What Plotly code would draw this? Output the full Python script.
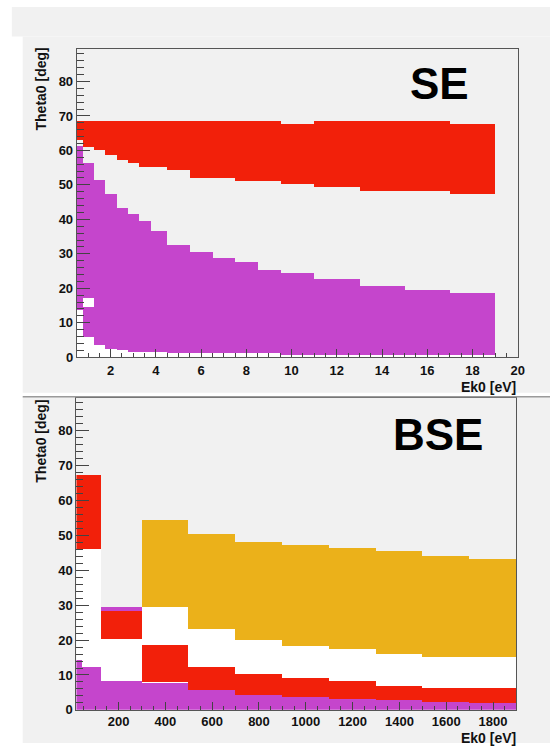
import plotly.graph_objects as go

# ---------------- data: SE panel (top) ----------------
se_edges = [0.5, 0.75, 1.25, 1.75, 2.25, 2.75, 3.25, 3.75, 4.5, 5.5, 6.5, 7.5, 8.5, 9.5, 11, 13, 15, 17, 19]
se_red_lo = [63.0, 61.2, 60.2, 58.6, 57.3, 56.3, 55.3, 55.3, 54.4, 52.1, 52.1, 51.2, 51.2, 50.4, 49.4, 48.3, 48.3, 47.3]
se_red_hi = [68.6, 68.6, 68.6, 68.6, 68.6, 68.6, 68.6, 68.6, 68.6, 68.6, 68.6, 68.6, 68.6, 67.6, 68.6, 68.6, 68.6, 67.6]
se_pur_lo = [13.8, 6.0, 3.6, 2.5, 2.0, 1.7, 1.5, 1.5, 1.2, 1.2, 1.2, 1.2, 1.2, 0.7, 0.7, 0.7, 0.7, 0.7]
se_pur_hi = [61.4, 56.5, 51.5, 47.4, 43.5, 41.6, 39.5, 36.6, 32.6, 30.7, 28.7, 27.7, 25.5, 24.5, 22.7, 20.6, 19.6, 18.6]
se_pur_gap_bin = [1]
se_pur_gap_lo = [14.6]
se_pur_gap_hi = [17.3]

# ---------------- data: BSE panel (bottom) ----------------
bse_edges = [20, 45, 125, 300, 500, 700, 900, 1100, 1300, 1500, 1700, 1900]
bse_red_lo = [46.3, 46.3, 20.4, 8.2, 5.8, 4.4, 3.8, 3.1, 2.8, 2.3, 2.0]
bse_red_hi = [67.5, 67.5, 28.4, 18.6, 12.3, 10.4, 9.2, 8.3, 7.0, 6.3, 6.3]
bse_pur_lo = [0, 0, 0, 0, 0, 0, 0, 0, 0, 0, 0]
bse_pur_hi = [14.5, 12.4, 8.4, 7.9, 5.8, 4.4, 3.8, 3.1, 2.8, 2.3, 2.0]
bse_pur_extra_bin = [2]
bse_pur_extra_lo = [28.4]
bse_pur_extra_hi = [29.6]
bse_org_lo = [None, None, None, 29.6, 23.4, 20.2, 18.5, 17.4, 16.2, 15.2, 15.2]
bse_org_hi = [None, None, None, 54.5, 50.5, 48.3, 47.3, 46.4, 45.5, 44.2, 43.4]

se_xticks = [2, 4, 6, 8, 10, 12, 14, 16, 18, 20]
bse_xticks = [200, 400, 600, 800, 1000, 1200, 1400, 1600, 1800]
y_ticks = [0, 10, 20, 30, 40, 50, 60, 70, 80]

RED = "#f2200a"
PURPLE = "#c545cc"
ORANGE = "#ebb11a"
WHITE = "#ffffff"
PAD = "#f1f1f1"


def segments(edges, lo, hi, gap_bin=(), gap_lo=(), gap_hi=()):
    """Return centers, widths, bases, heights for bin ranges (optionally split by a gap)."""
    xs, ws, bs, hs = [], [], [], []
    gaps = {b: (gl, gh) for b, gl, gh in zip(gap_bin, gap_lo, gap_hi)}
    for i in range(len(edges) - 1):
        if lo[i] is None or hi[i] is None:
            continue
        c = 0.5 * (edges[i] + edges[i + 1])
        w = edges[i + 1] - edges[i]
        parts = [(lo[i], hi[i])]
        if i in gaps:
            gl, gh = gaps[i]
            parts = [(lo[i], gl), (gh, hi[i])]
        for a, b in parts:
            xs.append(c); ws.append(w); bs.append(a); hs.append(b - a)
    return xs, ws, bs, hs


def bar(edges, lo, hi, color, xa, ya, **kw):
    xs, ws, bs, hs = segments(edges, lo, hi, **kw)
    return go.Bar(x=xs, y=hs, base=bs, width=ws, marker=dict(color=color, line=dict(width=0)),
                  xaxis=xa, yaxis=ya, showlegend=False, hoverinfo="skip")


def extra(edges, bins, lo, hi, color, xa, ya):
    xs = [0.5 * (edges[b] + edges[b + 1]) for b in bins]
    ws = [edges[b + 1] - edges[b] for b in bins]
    return go.Bar(x=xs, y=[h - l for l, h in zip(lo, hi)], base=lo, width=ws,
                  marker=dict(color=color, line=dict(width=0)),
                  xaxis=xa, yaxis=ya, showlegend=False, hoverinfo="skip")


fig = go.Figure()

# SE panel
fig.add_trace(bar(se_edges, [0] * len(se_pur_hi), se_pur_hi, WHITE, "x", "y"))
fig.add_trace(bar(se_edges, se_red_lo, se_red_hi, RED, "x", "y"))
fig.add_trace(bar(se_edges, se_pur_lo, se_pur_hi, PURPLE, "x", "y",
                  gap_bin=se_pur_gap_bin, gap_lo=se_pur_gap_lo, gap_hi=se_pur_gap_hi))

# BSE panel
bse_top = [max(v for v in (r, p, o) if v is not None) for r, p, o in zip(bse_red_hi, bse_pur_hi, bse_org_hi)]
bse_top[2] = max(bse_top[2], bse_pur_extra_hi[0])
fig.add_trace(bar(bse_edges, [0] * len(bse_top), bse_top, WHITE, "x2", "y2"))
fig.add_trace(bar(bse_edges, bse_org_lo, bse_org_hi, ORANGE, "x2", "y2"))
fig.add_trace(bar(bse_edges, bse_red_lo, bse_red_hi, RED, "x2", "y2"))
fig.add_trace(bar(bse_edges, bse_pur_lo, bse_pur_hi, PURPLE, "x2", "y2"))
fig.add_trace(extra(bse_edges, bse_pur_extra_bin, bse_pur_extra_lo, bse_pur_extra_hi, PURPLE, "x2", "y2"))

W, H = 557, 751


def px(v):
    return v / W


def py(v):
    return 1 - v / H


def bold(vals):
    return ["<b>%s</b>" % v for v in vals]


FAM = "Liberation Sans, Arial, sans-serif"
tickfont = dict(family=FAM, size=13, color="#111111")
axline = dict(showline=True, linecolor="#555555", linewidth=1, mirror=True, showgrid=False,
              zeroline=False, ticks="inside", tickcolor="#444444", tickfont=tickfont)
minor_col = "#444444"

fig.update_layout(
    width=W, height=H, margin=dict(l=0, r=0, t=0, b=0),
    paper_bgcolor="white", plot_bgcolor=PAD, barmode="overlay", bargap=0,
    xaxis=dict(domain=[px(77.7), px(524.3)], range=[0.5, 20], anchor="y",
               tickvals=se_xticks, ticktext=bold(se_xticks), ticklen=8, ticklabelstandoff=1,
               minor=dict(dtick=0.5, tick0=0, ticklen=4, ticks="inside", tickcolor=minor_col),
               **axline),
    yaxis=dict(domain=[py(361), py(49.3)], range=[0, 89.5], anchor="x",
               tickvals=y_ticks, ticktext=bold(y_ticks), ticklen=13,
               minor=dict(dtick=2, tick0=0, ticklen=7, ticks="inside", tickcolor=minor_col),
               **axline),
    xaxis2=dict(domain=[px(77.4), px(523)], range=[20, 1900], anchor="y2",
                tickvals=bse_xticks, ticktext=bold(bse_xticks), ticklen=8, ticklabelstandoff=0,
                minor=dict(dtick=50, tick0=0, ticklen=4, ticks="inside", tickcolor=minor_col),
                **axline),
    yaxis2=dict(domain=[py(717.5), py(402)], range=[0, 89.5], anchor="x2",
                tickvals=y_ticks, ticktext=bold(y_ticks), ticklen=13,
                minor=dict(dtick=2, tick0=0, ticklen=7, ticks="inside", tickcolor=minor_col),
                **axline),
)

# pad backgrounds (decoration)
shapes = [
    dict(type="rect", xref="paper", yref="paper", x0=px(12), x1=1, y0=py(37), y1=py(7),
         fillcolor=PAD, line=dict(width=0), layer="below"),
    dict(type="rect", xref="paper", yref="paper", x0=px(23), x1=1, y0=py(397), y1=py(37),
         fillcolor=PAD, line=dict(width=0), layer="below"),
    dict(type="rect", xref="paper", yref="paper", x0=px(23), x1=1, y0=0, y1=py(401),
         fillcolor=PAD, line=dict(width=0), layer="below"),
    dict(type="line", xref="paper", yref="paper", x0=px(23), x1=1, y0=py(401), y1=py(401),
         line=dict(color="#9a9a9a", width=1.5)),
]
fig.update_layout(shapes=shapes)

lab = dict(family=FAM, size=14, color="#111111")
big = dict(family=FAM, size=44, color="#000000")
ann = [
    dict(text="<b>Theta0 [deg]</b>", x=px(42), y=py(46), xref="paper", yref="paper", textangle=-90,
         xanchor="center", yanchor="top", showarrow=False, font=lab),
    dict(text="<b>Theta0 [deg]</b>", x=px(42), y=py(402), xref="paper", yref="paper", textangle=-90,
         xanchor="center", yanchor="top", showarrow=False, font=lab),
    dict(text="<b>Ek0 [eV]</b>", x=px(525), y=py(391), xref="paper", yref="paper",
         xanchor="right", yanchor="middle", showarrow=False, font=lab),
    dict(text="<b>Ek0 [eV]</b>", x=px(525), y=py(745.5), xref="paper", yref="paper",
         xanchor="right", yanchor="middle", showarrow=False, font=lab),
    dict(text="<b>SE</b>", x=px(445), y=py(84), xref="paper", yref="paper",
         xanchor="center", yanchor="middle", showarrow=False, font=big),
    dict(text="<b>BSE</b>", x=px(444), y=py(439), xref="paper", yref="paper",
         xanchor="center", yanchor="middle", showarrow=False, font=big),
]
fig.update_layout(annotations=ann)

fig.write_html("out.html")
